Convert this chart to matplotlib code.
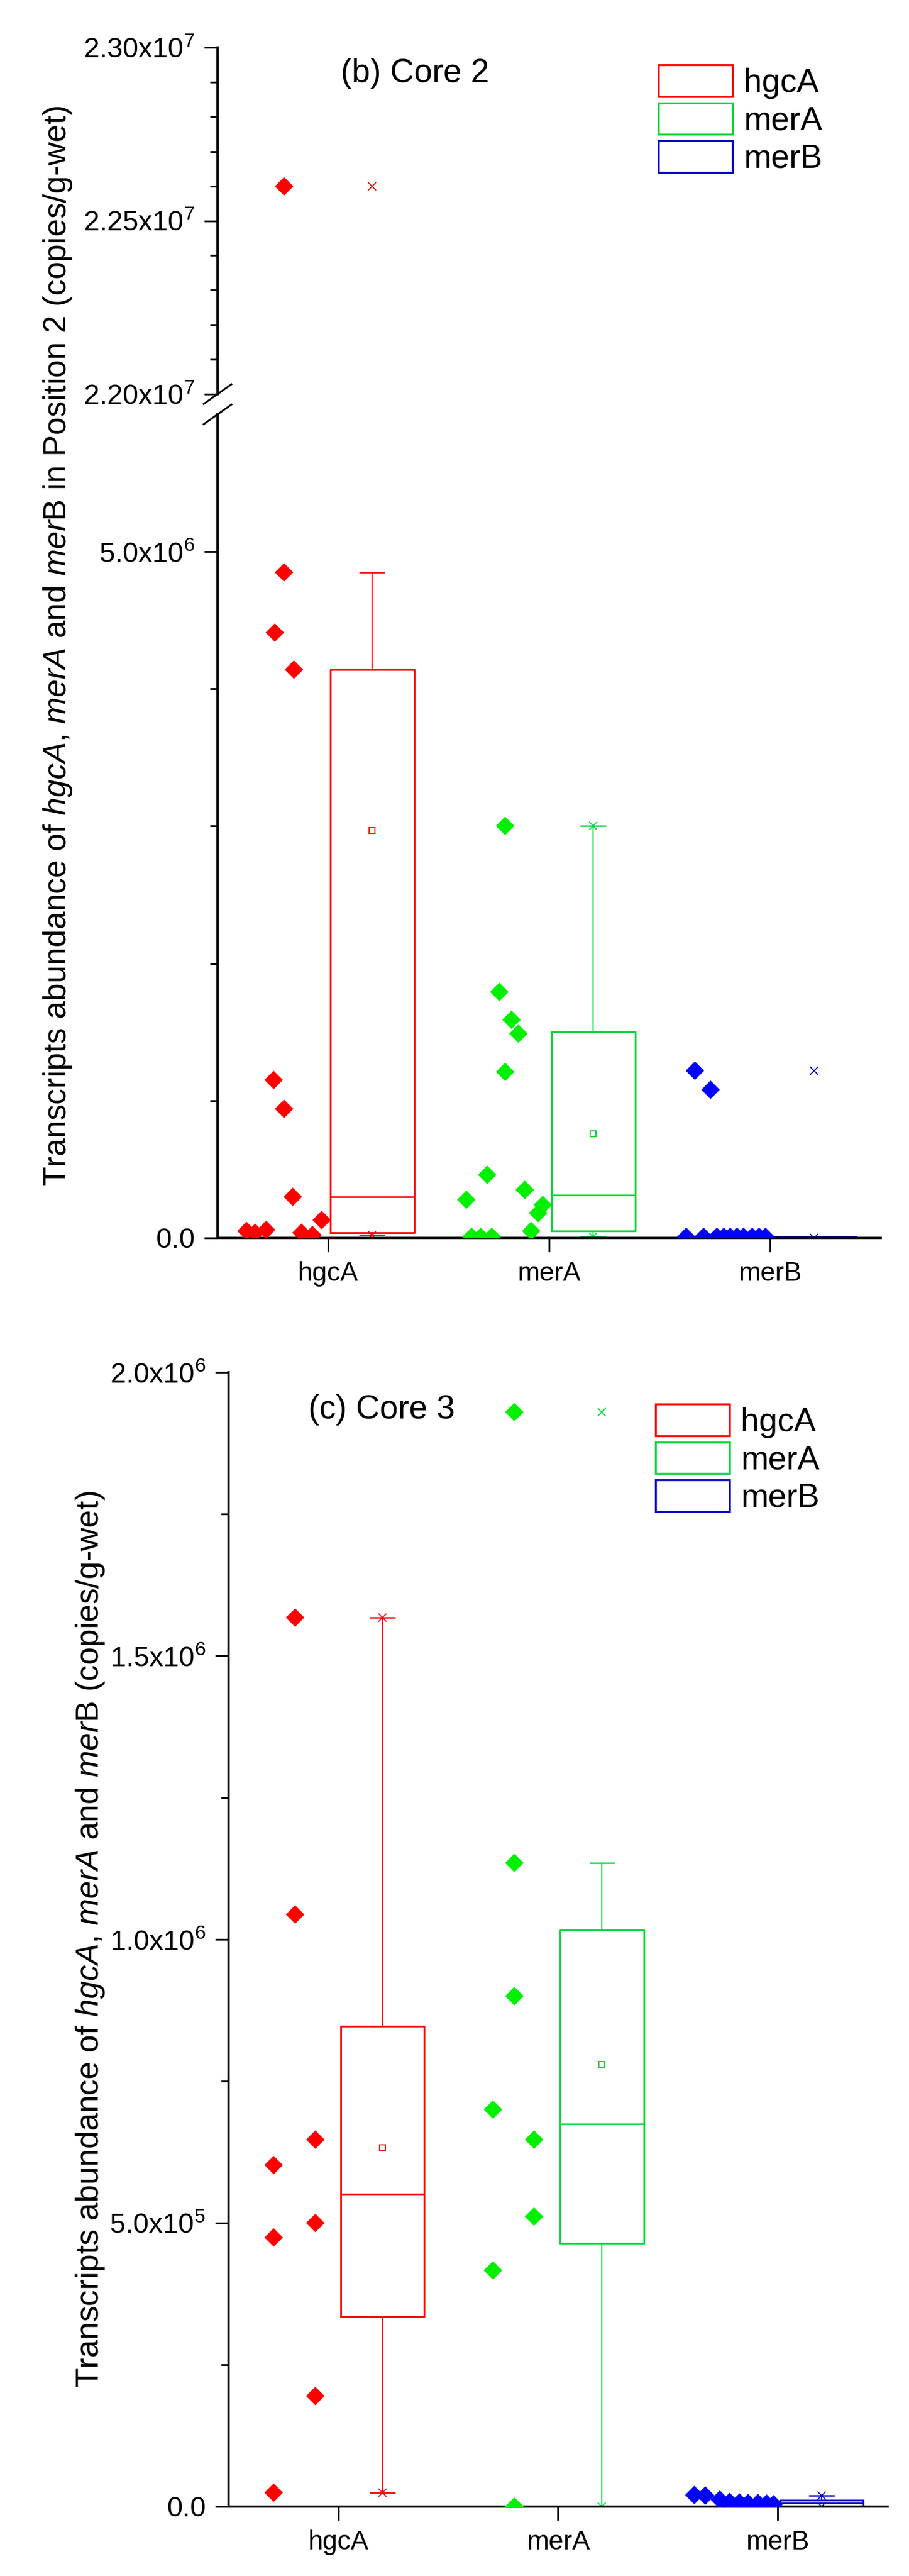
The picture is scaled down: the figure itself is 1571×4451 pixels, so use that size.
import matplotlib
matplotlib.use('Agg')
import matplotlib.pyplot as plt
from matplotlib.patches import Patch
from matplotlib.ticker import FixedLocator

plt.rcParams['font.family'] = ['Liberation Sans', 'DejaVu Sans']
plt.rcParams['mathtext.fontset'] = 'custom'
plt.rcParams['mathtext.rm'] = 'Liberation Sans'
plt.rcParams['mathtext.it'] = 'Liberation Sans:italic'

genes = ['hgcA', 'merA', 'merB']
line_colors = ['#FF0000', '#00D83A', '#0000CC']
dot_colors = ['#FF0000', '#00F000', '#0000FF']

# ---- Core 2 (Position 2) : values
core2_hgcA = [2.26e7, 4.85e6, 4.41e6, 4.14e6, 1.15e6, 0.94e6, 0.30e6, 0.13e6,
              0.05e6, 0.04e6, 0.06e6, 0.04e6, 0.02e6]
core2_hgcA_dx = [-0.20, -0.20, -0.24, -0.155, -0.245, -0.20, -0.16, -0.03,
                 -0.37, -0.33, -0.28, -0.12, -0.07]
core2_merA = [3.0e6, 1.79e6, 1.59e6, 1.49e6, 1.21e6, 0.46e6, 0.35e6, 0.28e6,
              0.24e6, 0.18e6, 0.05e6, 0.01e6, 0.01e6, 0.01e6]
core2_merA_dx = [-0.20, -0.225, -0.17, -0.14, -0.20, -0.28, -0.11, -0.375,
                 -0.03, -0.05, -0.08, -0.35, -0.31, -0.26]
core2_merB = [1.22e6, 1.08e6, 0.01e6, 0.01e6, 0.01e6, 0.01e6, 0.01e6, 0.01e6,
              0.01e6, 0.01e6, 0.01e6, 0.01e6]
core2_merB_dx = [-0.34, -0.27, -0.38, -0.30, -0.24, -0.21, -0.18, -0.15,
                 -0.12, -0.08, -0.05, -0.02]

# box statistics per gene: q1, median, q3, whisker low/high, mean, min, max
core2_q1 = [0.04e6, 0.05e6, 0.003e6]
core2_med = [0.30e6, 0.31e6, 0.005e6]
core2_q3 = [4.14e6, 1.50e6, 0.008e6]
core2_wlo = [0.02e6, 0.01e6, 0.0]
core2_whi = [4.85e6, 3.0e6, 0.01e6]
core2_mean = [2.97e6, 0.76e6, None]
core2_min = [0.02e6, 0.01e6, 0.0]
core2_max = [2.26e7, 3.0e6, 1.22e6]

# ---- Core 3
core3_hgcA = [1.567e6, 1.044e6, 0.647e6, 0.602e6, 0.50e6, 0.474e6, 0.195e6, 0.025e6]
core3_hgcA_dx = [-0.198, -0.198, -0.105, -0.295, -0.105, -0.295, -0.105, -0.295]
core3_merA = [1.93e6, 1.135e6, 0.90e6, 0.70e6, 0.647e6, 0.511e6, 0.416e6, 0.0]
core3_merA_dx = [-0.20, -0.20, -0.20, -0.295, -0.108, -0.108, -0.295, -0.20]
core3_merB = [0.020e6, 0.019e6, 0.012e6, 0.008e6, 0.007e6, 0.006e6, 0.006e6,
              0.005e6, 0.004e6]
core3_merB_dx = [-0.38, -0.33, -0.265, -0.22, -0.175, -0.135, -0.09, -0.05, -0.02]

core3_q1 = [0.335e6, 0.464e6, 0.001e6]
core3_med = [0.551e6, 0.674e6, 0.006e6]
core3_q3 = [0.847e6, 1.016e6, 0.011e6]
core3_wlo = [0.025e6, 0.0, 0.0]
core3_whi = [1.567e6, 1.135e6, 0.019e6]
core3_mean = [0.633e6, 0.78e6, None]
core3_min = [0.025e6, 0.0, 0.0]
core3_max = [1.567e6, 1.93e6, 0.019e6]


def draw_genes(ax, values, offsets, q1, med, q3, wlo, whi, mean, mn, mx):
    for i in range(3):
        c = line_colors[i]
        xs = [i + 1 + d for d in offsets[i]]
        ax.plot(xs, values[i], 'D', ms=16.5, color=dot_colors[i], mew=0, zorder=3)
        st = {'q1': q1[i], 'med': med[i], 'q3': q3[i], 'whislo': wlo[i],
              'whishi': whi[i], 'fliers': [mn[i], mx[i]]}
        if mean[i] is not None:
            st['mean'] = mean[i]
        ax.bxp([st], positions=[i + 1.2], widths=0.38, capwidths=0.11,
               showmeans=mean[i] is not None, manage_ticks=False,
               boxprops=dict(color=c, linewidth=2.2),
               whiskerprops=dict(color=c, linewidth=1.6),
               capprops=dict(color=c, linewidth=1.8),
               medianprops=dict(color=c, linewidth=2.0),
               meanprops=dict(marker='s', markerfacecolor='none', markeredgecolor=c,
                              ms=7.5, mew=1.5),
               flierprops=dict(marker='x', markeredgecolor=c, ms=10, mew=1.3,
                               linestyle='none'))


def style_axis(ax):
    for s in ['top', 'right']:
        ax.spines[s].set_visible(False)
    ax.spines['left'].set_linewidth(2.9)
    ax.spines['bottom'].set_linewidth(2.9)
    ax.tick_params(axis='y', which='major', direction='out', length=16.5, width=2.2,
                   labelsize=35, pad=12)
    ax.tick_params(axis='y', which='minor', direction='out', length=9.4, width=2.2)
    ax.tick_params(axis='x', which='major', direction='out', length=17, width=2.2,
                   labelsize=33, pad=12)
    ax.set_xlim(0.5, 3.5)


def add_legend(fig, x, y):
    handles = [Patch(facecolor='white', edgecolor=c, linewidth=2.5) for c in line_colors]
    fig.legend(handles, genes, loc='upper left', bbox_to_anchor=(x, y), frameon=False,
               fontsize=41, handlelength=2.25, handleheight=1.1, handletextpad=0.34,
               labelspacing=0.12, borderpad=0, borderaxespad=0)


W, H = 1571, 4451
fig = plt.figure(figsize=(W / 100, H / 100), dpi=100)

# ---------- panel (b) with broken axis
ax_top = fig.add_axes([376 / W, 1 - 681 / H, 1146 / W, 599 / H])
ax_bot = fig.add_axes([376 / W, 1 - 2139 / H, 1146 / W, (2139 - 716) / H])

core2_vals = [core2_hgcA, core2_merA, core2_merB]
core2_dx = [core2_hgcA_dx, core2_merA_dx, core2_merB_dx]
for ax in (ax_top, ax_bot):
    draw_genes(ax, core2_vals, core2_dx, core2_q1, core2_med, core2_q3,
               core2_wlo, core2_whi, core2_mean, core2_min, core2_max)
    style_axis(ax)

ax_top.set_ylim(2.2e7, 2.3e7)
ax_top.spines['bottom'].set_visible(False)
ax_top.tick_params(axis='x', which='both', bottom=False, labelbottom=False)
ax_top.set_yticks([2.2e7, 2.25e7, 2.3e7])
ax_top.set_yticklabels(['2.20x$10^{7}$', '2.25x$10^{7}$', '2.30x$10^{7}$'])
ax_top.yaxis.set_minor_locator(FixedLocator([2.21e7, 2.22e7, 2.23e7, 2.24e7,
                                             2.26e7, 2.27e7, 2.28e7, 2.29e7]))

ax_bot.set_ylim(0, 6e6)
ax_bot.set_yticks([0, 5e6])
ax_bot.set_yticklabels(['0.0', '5.0x$10^{6}$'])
ax_bot.yaxis.set_minor_locator(FixedLocator([1e6, 2e6, 3e6, 4e6]))
ax_bot.set_xticks([1, 2, 3])
ax_bot.set_xticklabels(genes)

# break marks on the y axis
dx = 24 / 1146
ax_top.plot([-dx, dx], [-17 / 599, 17 / 599], transform=ax_top.transAxes,
            color='black', lw=2.2, clip_on=False)
ax_bot.plot([-dx, dx], [1 - 17 / 1423, 1 + 17 / 1423], transform=ax_bot.transAxes,
            color='black', lw=2.2, clip_on=False)

ax_top.text(0.186, 0.925, '(b) Core 2', transform=ax_top.transAxes, fontsize=41,
            ha='left', va='center')
fig.text(100 / W, 1 - 1116 / H,
         r'Transcripts abundance of $\mathit{hgcA}$, $\mathit{merA}$ and $\mathit{mer}$B'
         ' in Position 2 (copies/g-wet)',
         rotation=90, ha='center', va='center', fontsize=40)
add_legend(fig, 1138 / W, 1 - 112 / H)

# ---------- panel (c)
ax3 = fig.add_axes([395 / W, 1 - 4331 / H, 1139 / W, (4331 - 2371) / H])
core3_vals = [core3_hgcA, core3_merA, core3_merB]
core3_dx = [core3_hgcA_dx, core3_merA_dx, core3_merB_dx]
draw_genes(ax3, core3_vals, core3_dx, core3_q1, core3_med, core3_q3,
           core3_wlo, core3_whi, core3_mean, core3_min, core3_max)
style_axis(ax3)
ax3.set_ylim(0, 2e6)
ax3.set_yticks([0, 5e5, 1e6, 1.5e6, 2e6])
ax3.set_yticklabels(['0.0', '5.0x$10^{5}$', '1.0x$10^{6}$', '1.5x$10^{6}$', '2.0x$10^{6}$'])
ax3.yaxis.set_minor_locator(FixedLocator([2.5e5, 7.5e5, 1.25e6, 1.75e6]))
ax3.set_xticks([1, 2, 3])
ax3.set_xticklabels(genes)
ax3.text(0.121, 0.967, '(c) Core 3', transform=ax3.transAxes, fontsize=41,
         ha='left', va='center')
fig.text(156 / W, 1 - 3351 / H,
         r'Transcripts abundance of $\mathit{hgcA}$, $\mathit{merA}$ and $\mathit{mer}$B'
         ' (copies/g-wet)',
         rotation=90, ha='center', va='center', fontsize=40)
add_legend(fig, 1133 / W, 1 - 2426 / H)

fig.savefig('out.png', dpi=100)
